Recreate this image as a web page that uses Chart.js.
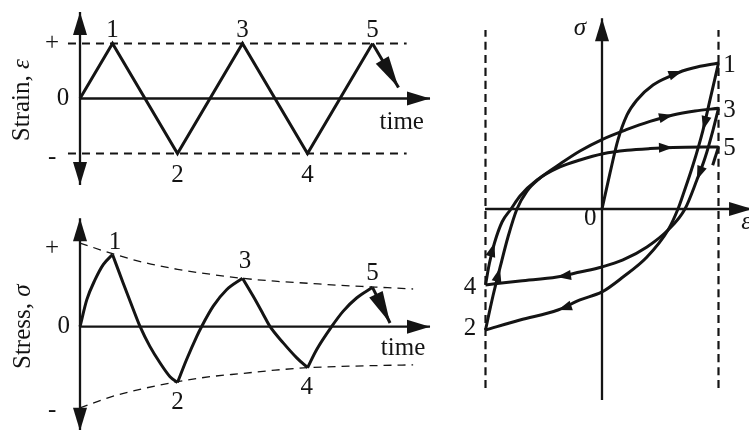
<!DOCTYPE html>
<html>
<head>
<meta charset="utf-8">
<script src="https://cdn.jsdelivr.net/npm/chart.js"></script>
<style>
  html, body { margin: 0; padding: 0; background: #fff; }
  #wrap { position: relative; width: 749px; height: 430px; overflow: hidden; }
  canvas { position: absolute; }
</style>
</head>
<body>
<div id="wrap">
  <canvas id="strain"></canvas>
  <canvas id="stress"></canvas>
  <canvas id="loop"></canvas>
</div>
<script>
// ---- strain history (time, strain) ----
const strainTime  = [0, 1, 3, 5, 7, 9];
const strainValue = [0, 1, -1, 1, -1, 1];
const strainTailTime  = [9, 9.8];
const strainTailValue = [1, 0.2];
const strainLimitTime = [-0.37, 10.05];

// ---- stress history (time, stress), one array pair per half cycle ----
const stress01T = [0, 0.21, 0.46, 0.72, 1];
const stress01S = [0, 0.33, 0.57, 0.76, 0.88];
const stress12T = [1, 1.33, 1.64, 1.85, 2.15, 2.46, 2.77, 3];
const stress12S = [0.88, 0.53, 0.21, 0, -0.24, -0.44, -0.61, -0.68];
const stress23T = [3, 3.28, 3.59, 3.74, 4.1, 4.51, 5];
const stress23S = [-0.68, -0.4, -0.12, 0, 0.25, 0.45, 0.59];
const stress34T = [5, 5.33, 5.64, 5.85, 6.26, 6.67, 7];
const stress34S = [0.59, 0.37, 0.15, 0, -0.2, -0.38, -0.5];
const stress45T = [7, 7.28, 7.74, 8.1, 8.51, 9];
const stress45S = [-0.5, -0.28, 0, 0.19, 0.35, 0.48];
const stressTailT = [9, 9.54];
const stressTailS = [0.48, 0.045];
const envelopeT     = [0, 1, 2, 3, 4, 5, 6, 7, 8, 9, 10.25];
const envelopeUpper = [1.02, 0.89, 0.78, 0.7, 0.64, 0.59, 0.555, 0.53, 0.505, 0.485, 0.46];
const envelopeLower = [-0.99, -0.85, -0.75, -0.67, -0.61, -0.57, -0.53, -0.5, -0.485, -0.475, -0.465];

// ---- hysteresis loops (strain, stress) ----
const loop01E = [0, 0.069, 0.137, 0.215, 0.3, 0.438, 0.609, 0.69, 0.781, 1];
const loop01S = [0, 0.247, 0.473, 0.644, 0.747, 0.849, 0.918, 0.945, 0.966, 1];
const loop12E = [1, 0.927, 0.867, 0.781, 0.695, 0.652, 0.567, 0.386, 0.18, 0, -0.189, -0.378, -0.704, -1];
const loop12S = [1, 0.747, 0.541, 0.301, 0.096, 0, -0.144, -0.329, -0.466, -0.568, -0.623, -0.692, -0.76, -0.829];
const loop23E = [-1, -0.936, -0.876, -0.807, -0.73, -0.644, -0.532, -0.361, -0.189, 0.009, 0.215, 0.412, 0.609, 0.798, 1];
const loop23S = [-0.829, -0.596, -0.404, -0.192, 0, 0.123, 0.212, 0.308, 0.397, 0.479, 0.545, 0.6, 0.644, 0.671, 0.69];
const loop34E = [1, 0.953, 0.884, 0.815, 0.712, 0.567, 0.386, 0.18, 0, -0.189, -0.386, -0.704, -1];
const loop34S = [0.69, 0.541, 0.349, 0.2, 0, -0.144, -0.26, -0.349, -0.397, -0.432, -0.466, -0.493, -0.52];
const loop45E = [-1, -0.966, -0.923, -0.858, -0.781, -0.704, -0.558, -0.361, -0.189, 0.009, 0.215, 0.412, 0.609, 1];
const loop45S = [-0.52, -0.37, -0.233, -0.089, 0, 0.089, 0.199, 0.288, 0.336, 0.378, 0.402, 0.414, 0.421, 0.425];
const loopTailE = [1, 0.95];
const loopTailS = [0.425, 0.3];
const loopLimitE = [-1, 1];
const loopLimitS = [-1.226, 1.226];

// ---- look ----
const ink = '#141414';
const serif = '"Liberation Serif", "Times New Roman", serif';
const fontPx = 25;

// panel boxes on the page and how data maps to pixels
const panels = {
  strain: { box: [0, 0, 460, 200],   x0: 80,  xs: 32.5,  y0: 98.5,  ys: 55 },
  stress: { box: [0, 200, 460, 230], x0: 80,  xs: 32.5,  y0: 326.7, ys: 82 },
  loop:   { box: [460, 0, 289, 430], x0: 602, xs: 116.5, y0: 209,   ys: 146 }
};

function pts(xs, ys) { return xs.map((x, i) => ({ x: x, y: ys[i] })); }

function curve(xs, ys, extra) {
  return Object.assign({
    data: pts(xs, ys), borderColor: ink, borderWidth: 3,
    pointRadius: 0, cubicInterpolationMode: 'monotone', fill: false, borderJoinStyle: 'miter'
  }, extra || {});
}

function straight(xs, ys) {
  return curve(xs, ys, { cubicInterpolationMode: 'default', tension: 0 });
}

function dashed(xs, ys, width, dash) {
  return curve(xs, ys, { borderWidth: width, borderDash: dash });
}

function head(ctx, x, y, ang, len, hw) {
  ctx.beginPath();
  ctx.moveTo(x, y);
  ctx.lineTo(x - len * Math.cos(ang) + hw * Math.sin(ang), y - len * Math.sin(ang) - hw * Math.cos(ang));
  ctx.lineTo(x - len * Math.cos(ang) - hw * Math.sin(ang), y - len * Math.sin(ang) + hw * Math.cos(ang));
  ctx.closePath();
  ctx.fill();
}

const decor = {
  id: 'decor',
  afterDatasetsDraw(chart, args, opts) {
    const ctx = chart.ctx, sx = chart.scales.x, sy = chart.scales.y;
    const X = v => sx.getPixelForValue(v), Y = v => sy.getPixelForValue(v);
    ctx.save();
    ctx.strokeStyle = ink;
    ctx.fillStyle = ink;

    // axes through the origin
    const a = opts.axes;
    ctx.lineWidth = 2.3;
    ctx.beginPath();
    ctx.moveTo(X(a.x[0]), Y(0)); ctx.lineTo(X(a.x[1]), Y(0));
    ctx.moveTo(X(0), Y(a.y[0])); ctx.lineTo(X(0), Y(a.y[1]));
    ctx.stroke();
    a.heads.forEach(h => {
      if (h === 'x+') head(ctx, X(a.x[1]), Y(0), 0, 23, 7);
      if (h === 'y+') head(ctx, X(0), Y(a.y[1]), -Math.PI / 2, 23, 7);
      if (h === 'y-') head(ctx, X(0), Y(a.y[0]), Math.PI / 2, 23, 7);
    });

    // arrowheads on curves
    (opts.arrows || []).forEach(ar => {
      const p = chart.getDatasetMeta(ar.ds).data;
      const i = ar.i === undefined ? p.length - 1 : ar.i;
      const prev = p[Math.max(i - 1, 0)], next = p[Math.min(i + 1, p.length - 1)];
      const ang = Math.atan2(next.y - prev.y, next.x - prev.x);
      head(ctx, p[i].x, p[i].y, ang, ar.len, ar.hw);
    });

    // text
    opts.labels.forEach(l => {
      const parts = Array.isArray(l.t) ? l.t : [{ s: l.t, it: l.it }];
      const fonts = parts.map(p => (p.it ? 'italic ' : '') + fontPx + 'px ' + serif);
      const widths = parts.map((p, k) => { ctx.font = fonts[k]; return ctx.measureText(p.s).width; });
      const total = widths.reduce((s, w) => s + w, 0);
      ctx.save();
      ctx.translate(X(l.x), Y(l.y));
      if (l.rot) ctx.rotate(-Math.PI / 2);
      ctx.textBaseline = 'middle';
      ctx.textAlign = 'left';
      let cx = l.align === 'left' ? 0 : -total / 2;
      parts.forEach((p, k) => { ctx.font = fonts[k]; ctx.fillText(p.s, cx, 0); cx += widths[k]; });
      ctx.restore();
    });
    ctx.restore();
  }
};

function build(id, datasets, decorOpts) {
  const p = panels[id];
  const [left, top, w, h] = p.box;
  const el = document.getElementById(id);
  el.width = w; el.height = h;
  el.style.left = left + 'px'; el.style.top = top + 'px';
  new Chart(el, {
    type: 'line',
    data: { datasets: datasets },
    options: {
      responsive: false, animation: false,
      layout: { padding: 0 },
      scales: {
        x: { type: 'linear', display: false, min: (left - p.x0) / p.xs, max: (left + w - p.x0) / p.xs },
        y: { type: 'linear', display: false, min: (p.y0 - top - h) / p.ys, max: (p.y0 - top) / p.ys }
      },
      plugins: { legend: { display: false }, tooltip: { enabled: false }, decor: decorOpts }
    },
    plugins: [decor]
  });
}

// strain vs time
build('strain', [
  straight(strainTime, strainValue),
  straight(strainTailTime, strainTailValue),
  dashed(strainLimitTime, [1, 1], 2.2, [8, 6]),
  dashed(strainLimitTime, [-1, -1], 2.2, [8, 6])
], {
  axes: { x: [0, 10.77], y: [-1.573, 1.573], heads: ['x+', 'y+', 'y-'] },
  arrows: [{ ds: 1, len: 32, hw: 7.5 }],
  labels: [
    { t: '+', x: -0.86, y: 1.0 }, { t: '0', x: -0.52, y: 0 }, { t: '-', x: -0.86, y: -1.07 },
    { t: '1', x: 1, y: 1.245 }, { t: '3', x: 5, y: 1.245 }, { t: '5', x: 9, y: 1.245 },
    { t: '2', x: 3, y: -1.39 }, { t: '4', x: 7, y: -1.39 },
    { t: 'time', x: 9.9, y: -0.43 },
    { t: [{ s: 'Strain, ' }, { s: 'ε', it: true }], x: -1.78, y: -0.03, rot: true }
  ]
});

// stress vs time
build('stress', [
  curve(stress01T, stress01S), curve(stress12T, stress12S), curve(stress23T, stress23S),
  curve(stress34T, stress34S), curve(stress45T, stress45S),
  straight(stressTailT, stressTailS),
  dashed(envelopeT, envelopeUpper, 1.3, [8, 6]),
  dashed(envelopeT, envelopeLower, 1.3, [8, 6])
], {
  axes: { x: [0, 10.77], y: [-1.27, 1.322], heads: ['x+', 'y+', 'y-'] },
  arrows: [{ ds: 5, len: 32, hw: 7.5 }],
  labels: [
    { t: '+', x: -0.86, y: 0.96 }, { t: '0', x: -0.5, y: 0 }, { t: '-', x: -0.86, y: -1.02 },
    { t: '1', x: 1.08, y: 1.03 }, { t: '3', x: 5.08, y: 0.79 }, { t: '5', x: 9, y: 0.655 },
    { t: '2', x: 3, y: -0.92 }, { t: '4', x: 6.98, y: -0.735 },
    { t: 'time', x: 9.94, y: -0.26 },
    { t: [{ s: 'Stress, ' }, { s: 'σ', it: true }], x: -1.75, y: 0, rot: true }
  ]
});

// stress vs strain
build('loop', [
  curve(loop01E, loop01S), curve(loop12E, loop12S), curve(loop23E, loop23S),
  curve(loop34E, loop34S), curve(loop45E, loop45S),
  straight(loopTailE, loopTailS),
  dashed([loopLimitE[0], loopLimitE[0]], loopLimitS, 2.2, [8, 5]),
  dashed([loopLimitE[1], loopLimitE[1]], loopLimitS, 2.2, [8, 5])
], {
  axes: { x: [-1.004, 1.288], y: [-1.308, 1.306], heads: ['x+', 'y+'] },
  arrows: [
    { ds: 0, i: 7, len: 14, hw: 5 }, { ds: 1, i: 2, len: 14, hw: 5 }, { ds: 1, i: 11, len: 14, hw: 5 },
    { ds: 2, i: 2, len: 14, hw: 5 }, { ds: 2, i: 12, len: 14, hw: 5 },
    { ds: 3, i: 3, len: 14, hw: 5 }, { ds: 3, i: 10, len: 14, hw: 5 },
    { ds: 4, i: 2, len: 14, hw: 5 }, { ds: 4, i: 12, len: 14, hw: 5 }
  ],
  labels: [
    { t: 'σ', it: true, x: -0.19, y: 1.24 },
    { t: '1', x: 1.04, y: 0.986, align: 'left' }, { t: '3', x: 1.04, y: 0.678, align: 'left' },
    { t: '5', x: 1.04, y: 0.418, align: 'left' },
    { t: '0', x: -0.1, y: -0.062 },
    { t: 'ε', it: true, x: 1.195, y: -0.09, align: 'left' },
    { t: '4', x: -1.133, y: -0.534 }, { t: '2', x: -1.133, y: -0.815 }
  ]
});
</script>
</body>
</html>
